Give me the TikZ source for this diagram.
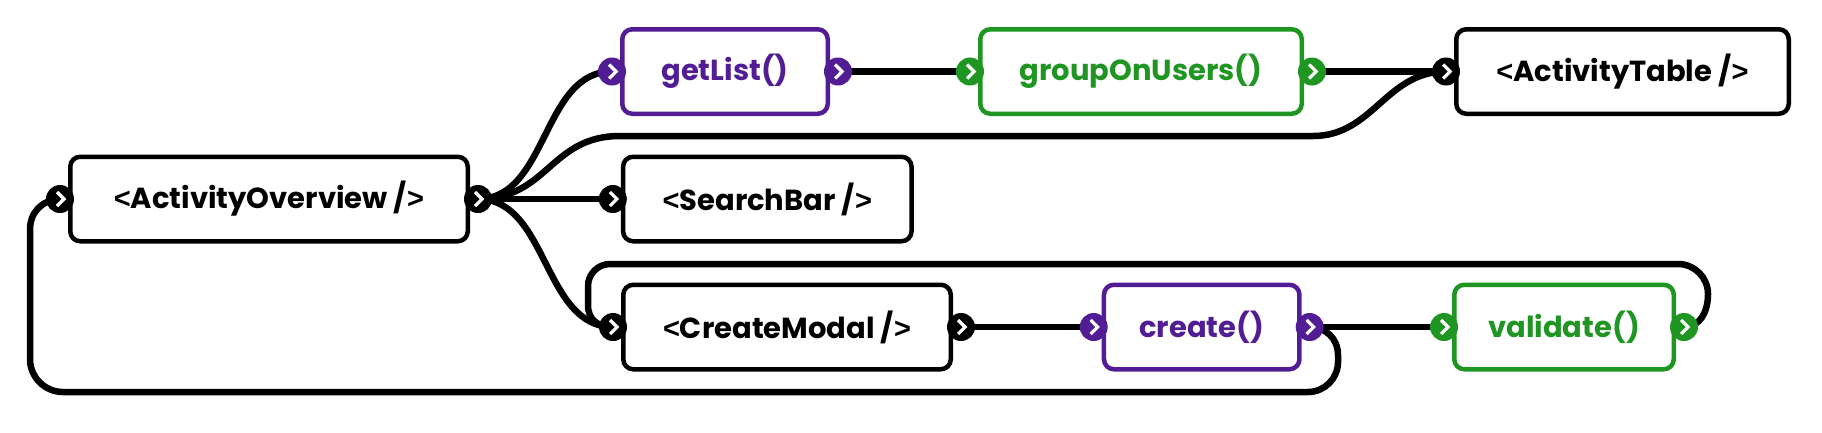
\documentclass[tikz,border=0pt]{standalone}
\usepackage{fontspec}
\setmainfont{Poppins}
\newfontfamily\brfont{Liberation Sans}
\newcommand{\lb}{{\brfont\bfseries <}}
\newcommand{\rb}{{\brfont\bfseries >}}
\usetikzlibrary{backgrounds}
\definecolor{pur}{RGB}{82,29,148}
\definecolor{grn}{RGB}{31,150,34}
\tikzset{
 box/.style={draw=#1, text=#1, line width=4.5pt, rounded corners=10pt, minimum height=84.5pt, inner sep=0pt, font=\fontsize{29}{34}\selectfont\bfseries, fill=white},
 box/.default=black,
 port/.style={circle, fill=#1, minimum size=28pt, inner sep=0pt, path picture={\draw[white,line width=3.2pt] ([shift={(-3,7)}]path picture bounding box.center) -- ++(7,-7) -- ++(-7,-7);}},
 port/.default=black,
 conn/.style={line width=6.5pt, black},
}
\begin{document}
\begin{tikzpicture}[x=1pt,y=-1pt]
\useasboundingbox (0,0) rectangle (1822,432);
% boxes
\node[box, minimum width=397.5pt] (ao) at (269,199) {\lb ActivityOverview /\rb};
\node[box=pur, minimum width=205.5pt] (gl) at (725,71.5) {getList()};
\node[box=grn, minimum width=321.5pt] (gu) at (1141,71.5) {groupOnUsers()};
\node[box, minimum width=332.5pt] (at) at (1622.5,71.5) {\lb ActivityTable /\rb};
\node[box, minimum width=288.5pt] (sb) at (767.3,199) {\lb SearchBar /\rb};
\node[box, minimum width=327.5pt] (cm) at (787,327) {\lb CreateModal /\rb};
\node[box=pur, minimum width=195.5pt] (cr) at (1201.7,327) {create()};
\node[box=grn, minimum width=219.5pt] (va) at (1564,327) {validate()};
% ports
\node[port] (ao-i) at ([xshift=-8pt]ao.west) {};
\node[port] (ao-o) at ([xshift=8pt]ao.east) {};
\node[port=pur] (gl-i) at ([xshift=-8pt]gl.west) {};
\node[port=pur] (gl-o) at ([xshift=8pt]gl.east) {};
\node[port=grn] (gu-i) at ([xshift=-8pt]gu.west) {};
\node[port=grn] (gu-o) at ([xshift=8pt]gu.east) {};
\node[port] (at-i) at ([xshift=-8pt]at.west) {};
\node[port] (sb-i) at ([xshift=-8pt]sb.west) {};
\node[port] (cm-i) at ([xshift=-8pt]cm.west) {};
\node[port] (cm-o) at ([xshift=8pt]cm.east) {};
\node[port=pur] (cr-i) at ([xshift=-8pt]cr.west) {};
\node[port=pur] (cr-o) at ([xshift=8pt]cr.east) {};
\node[port=grn] (va-i) at ([xshift=-8pt]va.west) {};
\node[port=grn] (va-o) at ([xshift=8pt]va.east) {};
\begin{scope}[on background layer]
\draw[conn] (ao-o.center) .. controls +(70,0) and +(-70,0) .. (gl-i.center);
\draw[conn] (ao-o.center) .. controls +(70,0) and +(-70,0) .. (620,136) -- (1313,136) .. controls +(60,0) and +(-60,0) .. (at-i.center);
\draw[conn] (ao-o.center) -- (sb-i.center);
\draw[conn] (ao-o.center) .. controls +(70,0) and +(-70,0) .. (cm-i.center);
\draw[conn] (gl-o.center) -- (gu-i.center);
\draw[conn] (gu-o.center) -- (at-i.center);
\draw[conn] (cm-o.center) -- (cr-i.center);
\draw[conn] (cr-o.center) -- (va-i.center);
\draw[conn] (va-o.center) .. controls (1700,327) and (1708,312) .. (1708,294) .. controls (1708,277.5) and (1694.5,264) .. (1678,264) -- (610,264) .. controls (598,264) and (588,274) .. (588,286) -- (588,305) .. controls (588,320) and (598,327) .. (cm-i.center);
\draw[conn] (cr-o.center) .. controls (1325,327) and (1338,338) .. (1338,355) -- (1338,362) .. controls (1338,378.5) and (1324.5,392) .. (1308,392) -- (63,392) .. controls (44.8,392) and (30,377.2) .. (30,359) -- (30,230) .. controls (30,212) and (42,200) .. (ao-i.center);
\end{scope}
\end{tikzpicture}
\end{document}
